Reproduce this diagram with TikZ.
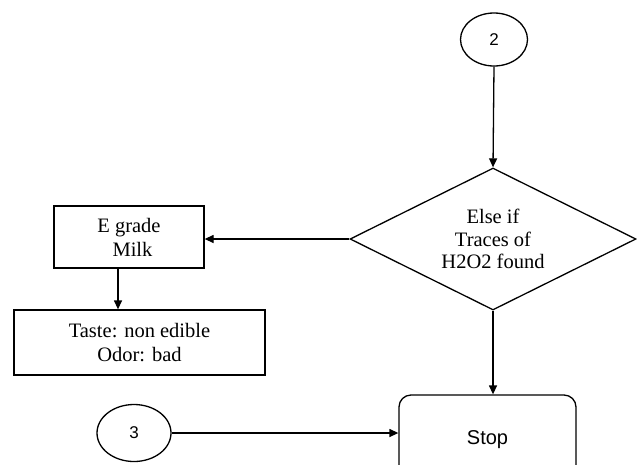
\documentclass[tikz,border=0pt]{standalone}
\usepackage{fontspec}
\setmainfont{Liberation Serif}
\setsansfont{Liberation Sans}
\usetikzlibrary{shapes.geometric,arrows.meta}

\tikzset{
  conn/.style={-{Triangle[length=9pt,width=8pt]}, line width=1.3pt},
  box/.style={draw, line width=1.3pt, inner sep=0pt, align=center,
    font=\fontsize{20.5}{24}\selectfont},
  conect/.style={draw, ellipse, line width=1.3pt, inner sep=0pt,
    font=\sffamily\fontsize{17}{20}\selectfont},
}

\begin{document}
\begin{tikzpicture}[x=1pt, y=-1pt]
        \useasboundingbox (0,0) rectangle (637,464);
        \fill[white] (0,0) rectangle (637,464);
        \clip (0,0) rectangle (637,464);

        % connectors
        \node[conect, minimum width=67pt, minimum height=53pt] (c2) at (494,39.5) {2};
        \node[conect, minimum width=74pt, minimum height=57pt] (c3) at (134,433) {3};

        % decision
        \node[box, diamond, aspect=2, minimum width=286pt, minimum height=142pt,
              font=\fontsize{20.5}{22.5}\selectfont] (dec) at (493,239)
              {Else if\\Traces of\\H2O2 found};

        % boxes
        \node[box, minimum width=150pt, minimum height=62pt] (egrade) at (129,237)
              {E grade\\\hspace*{7pt}Milk};
        \node[box, minimum width=251pt, minimum height=65pt] (taste) at (139.5,342.5)
              {Taste: non edible\\Odor: bad};
        \node[box, rounded corners=12pt, minimum width=177pt, minimum height=90pt,
              font=\sffamily\fontsize{20}{24}\selectfont] (stop) at (487.5,440) {Stop};

        \draw[conn] (c2.south) -- (dec.north);
        \draw[conn] (dec.west) -- (dec.west -| egrade.east);
        \draw[conn] ([xshift=-11pt]egrade.south) -- ([xshift=-11pt]egrade.south |- taste.north);
        \draw[conn] (dec.south) -- (dec.south |- stop.north);
        \draw[conn] (c3.east) -- (c3.east -| stop.west);
    \end{tikzpicture}
\end{document}
